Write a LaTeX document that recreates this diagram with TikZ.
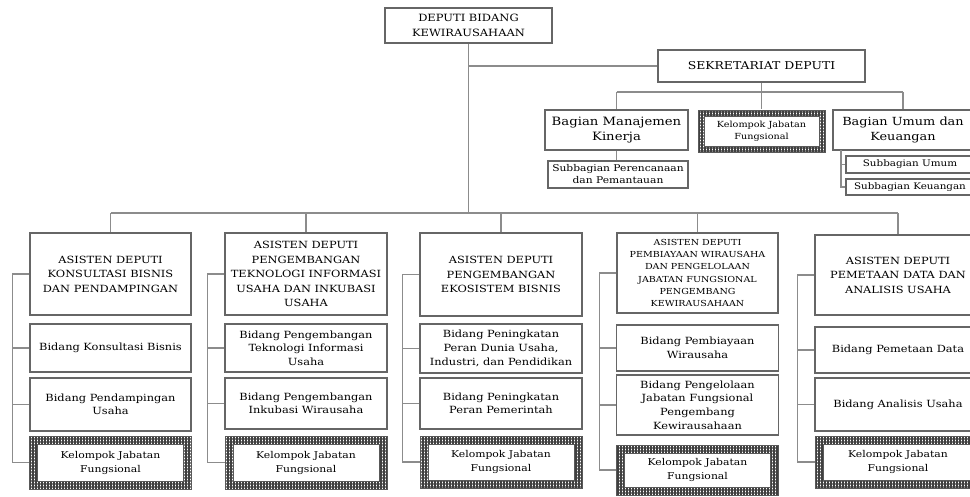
\documentclass[tikz,border=0pt]{standalone}
\usepackage{fontspec}
\setmainfont[FakeStretch=1.15]{DejaVu Serif}
\usetikzlibrary{patterns.meta}
\tikzset{
  box/.style={draw=black!60, line width=1.1pt, fill=white, inner sep=0pt, align=center},
  kelout/.style={draw=black!65, line width=1pt, inner sep=0pt,
     pattern={Hatch[distance=3pt, line width=1.4pt]}, pattern color=black!75},
  kelin/.style={draw=black!65, line width=1pt, fill=white, inner sep=0pt, align=center},
  conn/.style={draw=black!45, line width=1.3pt},
  fhead/.style={font=\fontsize{9.9}{14.5}\selectfont},
  fheadsm/.style={font=\fontsize{8.3}{12.3}\selectfont},
  fsub/.style={font=\fontsize{9.9}{13.6}\selectfont},
  fkel/.style={font=\fontsize{9.4}{14}\selectfont},
  fkelsm/.style={font=\fontsize{8.4}{12}\selectfont},
}
\newcommand{\kelbox}[8]{%
  \node[kelout, minimum width=#4, minimum height=#5] (#1) at (#2,#3) {};
  \node[kelin, #8, minimum width=#4-2*#6, minimum height=#5-2*#6] (#1in) at (#1) {#7};
}
\begin{document}
\begin{tikzpicture}[x=1pt, y=-1pt]
\useasboundingbox (0,0) rectangle (970,496);
\clip (0,0) rectangle (970,496);
\fill[white] (0,0) rectangle (970,496);

% top
\node[box, font=\fontsize{10}{15}\selectfont, minimum width=167, minimum height=35] (top) at (468.5,25.5) {DEPUTI BIDANG\\KEWIRAUSAHAAN};
\node[box, font=\fontsize{10.8}{14}\selectfont, minimum width=207, minimum height=32] (sek) at (761.5,66) {SEKRETARIAT DEPUTI};

\node[box, font=\fontsize{11.5}{15}\selectfont, minimum width=143, minimum height=40] (bmk) at (616.5,130) {Bagian Manajemen\\Kinerja};
\kelbox{kjf}{761.5}{131}{127}{42}{6}{Kelompok Jabatan\\Fungsional}{fkelsm}
\node[box, font=\fontsize{11.2}{15}\selectfont, minimum width=140, minimum height=40] (bud) at (903,130) {Bagian Umum dan\\Keuangan};
\node[box, font=\fontsize{9.3}{12}\selectfont, minimum width=140, minimum height=27] (sp) at (618,174.5) {Subbagian Perencanaan\\dan Pemantauan};
\node[box, font=\fontsize{9}{12}\selectfont, minimum width=128, minimum height=17] (su) at (910,164.5) {Subbagian Umum};
\node[box, font=\fontsize{9}{12}\selectfont, minimum width=128, minimum height=16] (sk) at (910,187) {Subbagian Keuangan};

% heads
\node[box, fhead, minimum width=161, minimum height=82] (h1) at (110.5,274) {ASISTEN DEPUTI\\KONSULTASI BISNIS\\DAN PENDAMPINGAN};
\node[box, fhead, minimum width=162, minimum height=82] (h2) at (306,274) {ASISTEN DEPUTI\\PENGEMBANGAN\\TEKNOLOGI INFORMASI\\USAHA DAN INKUBASI\\USAHA};
\node[box, fhead, minimum width=162, minimum height=83] (h3) at (501,274.5) {ASISTEN DEPUTI\\PENGEMBANGAN\\EKOSISTEM BISNIS};
\node[box, fheadsm, minimum width=161, minimum height=80] (h4) at (697.5,273) {ASISTEN DEPUTI\\PEMBIAYAAN WIRAUSAHA\\DAN PENGELOLAAN\\JABATAN FUNGSIONAL\\PENGEMBANG\\KEWIRAUSAHAAN};
\node[box, fhead, minimum width=166, minimum height=80] (h5) at (898,275) {ASISTEN DEPUTI\\PEMETAAN DATA DAN\\ANALISIS USAHA};

% column 1
\node[box, fsub, minimum width=161, minimum height=48] (b11) at (110.5,348) {Bidang Konsultasi Bisnis};
\node[box, fsub, minimum width=161, minimum height=53] (b12) at (110.5,404.5) {Bidang Pendampingan\\Usaha};
\kelbox{k1}{110.5}{462.5}{162}{53}{8}{Kelompok Jabatan\\Fungsional}{fkel}
% column 2
\node[box, fsub, minimum width=162, minimum height=48] (b21) at (306,348) {Bidang Pengembangan\\Teknologi Informasi\\Usaha};
\node[box, fsub, minimum width=162, minimum height=51] (b22) at (306,403.5) {Bidang Pengembangan\\Inkubasi Wirausaha};
\kelbox{k2}{306}{462.5}{162}{53}{8}{Kelompok Jabatan\\Fungsional}{fkel}
% column 3
\node[box, fsub, minimum width=162, minimum height=49] (b31) at (501,348.5) {Bidang Peningkatan\\Peran Dunia Usaha,\\Industri, dan Pendidikan};
\node[box, fsub, minimum width=162, minimum height=51] (b32) at (501,403.5) {Bidang Peningkatan\\Peran Pemerintah};
\kelbox{k3}{501}{462}{162}{52}{8}{Kelompok Jabatan\\Fungsional}{fkel}
% column 4
\node[box, fsub, minimum width=162, minimum height=46] (b41) at (697.5,348) {Bidang Pembiayaan\\Wirausaha};
\node[box, fsub, minimum width=162, minimum height=60] (b42) at (697.5,405) {Bidang Pengelolaan\\Jabatan Fungsional\\Pengembang\\Kewirausahaan};
\kelbox{k4}{697.5}{470}{162}{50}{8}{Kelompok Jabatan\\Fungsional}{fkel}
% column 5
\node[box, fsub, minimum width=166, minimum height=46] (b51) at (898,350) {Bidang Pemetaan Data};
\node[box, fsub, minimum width=166, minimum height=53] (b52) at (898,404.5) {Bidang Analisis Usaha};
\kelbox{k5}{898}{462}{166}{52}{8}{Kelompok Jabatan\\Fungsional}{fkel}

% connectors
\coordinate (jt) at (468.5,213);
\draw[conn] (top.south) -- (jt);
\draw[conn] (top.south |- sek.west) -- (sek.west);
\draw[conn] (h1.north |- jt) -- (h5.north |- jt);
\foreach \h in {h1,h2,h3,h4,h5} { \draw[conn] (\h.north |- jt) -- (\h.north); }

\coordinate (js) at (761.5,92);
\draw[conn] (sek.south) -- (js);
\draw[conn] (bmk.north |- js) -- (bud.north |- js);
\draw[conn] (bmk.north |- js) -- (bmk.north);
\draw[conn] (kjf.north |- js) -- (kjf.north);
\draw[conn] (bud.north |- js) -- (bud.north);
\draw[conn] (bmk.south) -- (bmk.south |- sp.north);
\coordinate (cb) at (841,150);
\draw[conn] (cb) |- (sk.west);
\draw[conn] (su.west) -- (su.west -| cb);

% column brackets
\foreach \c in {1,2,3,4,5} {
  \draw[conn] (h\c.west) -- ++(-17,0) coordinate (br\c) |- (k\c.west);
  \draw[conn] (b\c1.west) -- (b\c1.west -| br\c);
  \draw[conn] (b\c2.west) -- (b\c2.west -| br\c);
}
\end{tikzpicture}
\end{document}
